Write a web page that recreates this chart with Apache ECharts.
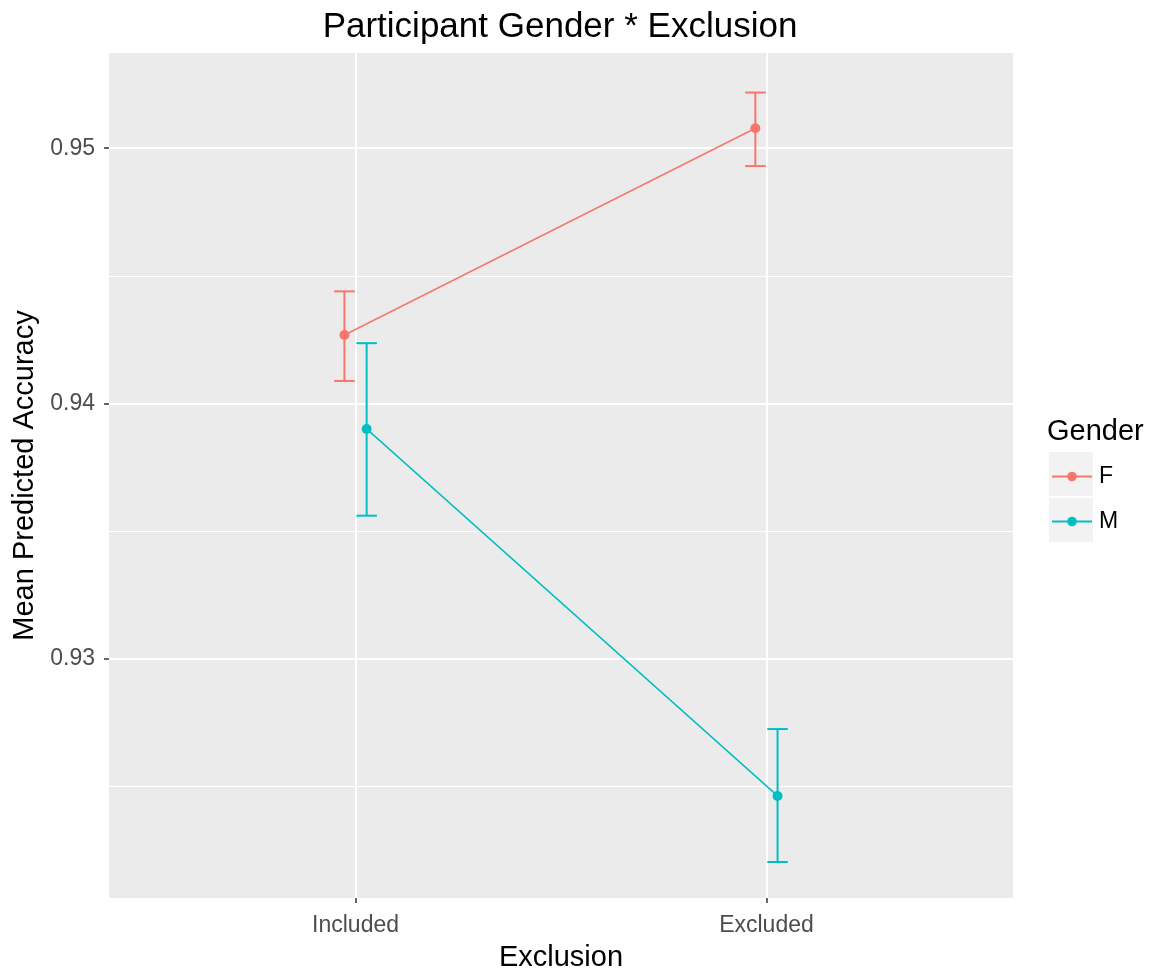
<!DOCTYPE html>
<html>
<head>
<meta charset="utf-8">
<script src="https://cdn.jsdelivr.net/npm/echarts@6/dist/echarts.min.js"></script>
<style>
  html, body { margin: 0; padding: 0; background: #fff; }
  #chart { width: 1159px; height: 977px; }
</style>
</head>
<body>
<div id="chart"></div>
<script>
// Exclusion conditions (x axis) and gender groups
const categories = ['Included', 'Excluded'];
const genders = ['F', 'M'];

// Mean predicted accuracy with lower / upper error bounds per condition
const fMean = [0.94268, 0.95078];
const fLow  = [0.94088, 0.94930];
const fHigh = [0.94439, 0.95218];
const mMean = [0.93900, 0.92462];
const mLow  = [0.93560, 0.92203];
const mHigh = [0.94236, 0.92724];

// Axis ticks
const yTicks = [0.93, 0.94, 0.95];
const yMinor = [0.925, 0.935, 0.945];
const xTicks = [0, 1];

// Layout / style constants
const FONT = '"Liberation Sans", Arial, sans-serif';
const COLORS = { F: '#F8766D', M: '#00BFC4' };
const DODGE = 0.027;      // horizontal offset between the two groups
const CAP = 0.025;        // half-width of error bar caps, in category units
const Y_MIN = 0.92062, Y_MAX = 0.95373;

function pts(means, offset) {
  return means.map((v, i) => [i + offset, v]);
}
function bars(lows, highs, offset) {
  return lows.map((lo, i) => [i + offset, lo, highs[i]]);
}

function errorBarItem(color) {
  return function (params, api) {
    const x = api.value(0), lo = api.value(1), hi = api.value(2);
    const pLo = api.coord([x, lo]);
    const pHi = api.coord([x, hi]);
    const l = api.coord([x - CAP, lo])[0];
    const r = api.coord([x + CAP, lo])[0];
    const style = { stroke: color, lineWidth: 2, fill: null };
    return {
      type: 'group',
      children: [
        { type: 'line', shape: { x1: pLo[0], y1: pLo[1], x2: pHi[0], y2: pHi[1] }, style },
        { type: 'line', shape: { x1: l, y1: pHi[1], x2: r, y2: pHi[1] }, style },
        { type: 'line', shape: { x1: l, y1: pLo[1], x2: r, y2: pLo[1] }, style }
      ]
    };
  };
}

const chart = echarts.init(document.getElementById('chart'), null, { renderer: 'canvas' });

const option = {
  backgroundColor: '#ffffff',
  animation: false,
  textStyle: { fontFamily: FONT },
  grid: {
    left: 109, width: 904, top: 53, height: 850,
    show: true, backgroundColor: '#EBEBEB', borderWidth: 0
  },
  xAxis: [{
    type: 'value', min: -0.6, max: 1.6,
    name: 'Exclusion', nameLocation: 'middle', nameGap: 45,
    nameTextStyle: { fontSize: 29, color: '#000', fontFamily: FONT },
    axisLine: { show: false, onZero: false },
    axisTick: { show: true, length: 5, customValues: xTicks, lineStyle: { color: '#333', width: 1.5 } },
    axisLabel: {
      customValues: xTicks, fontSize: 23, color: '#4D4D4D', margin: 16, fontFamily: FONT,
      formatter: v => categories[Math.round(v)]
    },
    splitLine: { show: true, lineStyle: { color: '#fff', width: 2 } }
  }],
  yAxis: [{
    type: 'value', min: Y_MIN, max: Y_MAX,
    name: 'Mean Predicted Accuracy', nameLocation: 'middle', nameGap: 59,
    nameTextStyle: { fontSize: 29, color: '#000', fontFamily: FONT },
    axisLine: { show: false, onZero: false },
    axisTick: { show: true, length: 5, customValues: yTicks, lineStyle: { color: '#333', width: 1.5 } },
    axisLabel: {
      customValues: yTicks, fontSize: 23, color: '#4D4D4D', margin: 14, fontFamily: FONT,
      formatter: v => v.toFixed(2)
    },
    splitLine: { show: true, lineStyle: { color: '#fff', width: 2 } }
  }, {
    // minor horizontal grid lines
    type: 'value', min: Y_MIN, max: Y_MAX, position: 'left',
    axisLine: { show: false, onZero: false },
    axisTick: { show: false, customValues: yMinor },
    axisLabel: { show: false, customValues: yMinor },
    splitLine: { show: true, lineStyle: { color: '#fff', width: 1 } }
  }],
  legend: {
    data: genders,
    orient: 'vertical',
    left: 1051, top: 465,
    padding: 0,
    itemWidth: 40, itemHeight: 12, itemGap: 22,
    textStyle: { fontSize: 23, color: '#000', fontFamily: FONT, padding: [0, 0, 0, 2] },
    selectedMode: false
  },
  graphic: [
    { type: 'rect', left: 1049, top: 452, shape: { width: 44, height: 44 }, style: { fill: '#F2F2F2' }, z: 0 },
    { type: 'rect', left: 1049, top: 498, shape: { width: 44, height: 44 }, style: { fill: '#F2F2F2' }, z: 0 },
    { type: 'text', x: 1047, y: 432, style: { text: 'Gender', font: '29px ' + FONT, fill: '#000', textAlign: 'left', textVerticalAlign: 'middle' } },
    { type: 'text', x: 560, y: 27, style: { text: 'Participant Gender * Exclusion', font: '35px ' + FONT, fill: '#000', textAlign: 'center', textVerticalAlign: 'middle' } }
  ],
  series: [
    {
      name: 'F', type: 'line', data: pts(fMean, -DODGE),
      symbol: 'circle', symbolSize: 10, showSymbol: true,
      itemStyle: { color: COLORS.F }, lineStyle: { color: COLORS.F, width: 1.5 },
      z: 3
    },
    {
      name: 'M', type: 'line', data: pts(mMean, DODGE),
      symbol: 'circle', symbolSize: 10, showSymbol: true,
      itemStyle: { color: COLORS.M }, lineStyle: { color: COLORS.M, width: 1.5 },
      z: 3
    },
    {
      name: 'F-err', type: 'custom', data: bars(fLow, fHigh, -DODGE),
      renderItem: errorBarItem(COLORS.F), z: 2, silent: true
    },
    {
      name: 'M-err', type: 'custom', data: bars(mLow, mHigh, DODGE),
      renderItem: errorBarItem(COLORS.M), z: 2, silent: true
    }
  ]
};

chart.setOption(option);
</script>
</body>
</html>
